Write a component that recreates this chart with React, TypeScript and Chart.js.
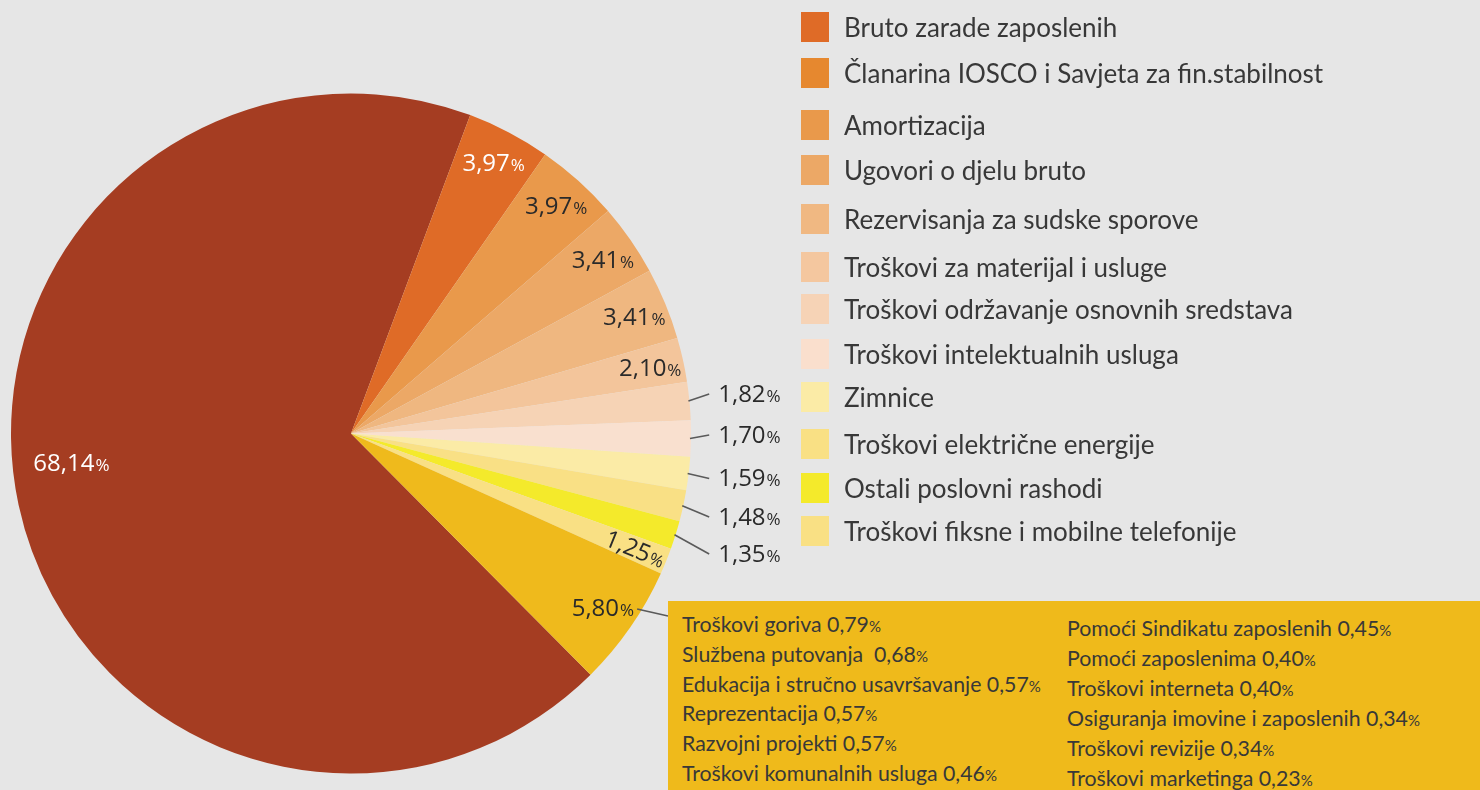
import React, { useEffect, useRef } from 'react';
import { Chart, registerables } from 'chart.js';
Chart.register(...registerables);

// ---- data ----
const sliceNames = [
  'Bruto zarade zaposlenih',
  'Članarina IOSCO i Savjeta za fin.stabilnost',
  'Amortizacija',
  'Ugovori o djelu bruto',
  'Rezervisanja za sudske sporove',
  'Troškovi za materijal i usluge',
  'Troškovi održavanje osnovnih sredstava',
  'Troškovi intelektualnih usluga',
  'Zimnice',
  'Troškovi električne energije',
  'Ostali poslovni rashodi',
  'Troškovi fiksne i mobilne telefonije',
  'Ostali troškovi',
];
const sliceValues = [68.14, 3.97, 3.97, 3.41, 3.41, 2.1, 1.82, 1.7, 1.59, 1.48, 1.35, 1.25, 5.8];
const sliceColors = [
  '#A53D22', '#DF6B27', '#E9994B', '#ECA866', '#EFB780', '#F3C59B', '#F6D3B5',
  '#F9E0CF', '#FBEBA6', '#F9E085', '#F4EA2B', '#F9E084', '#EFBA1C',
];
const legendNames = sliceNames.slice(0, 12);
const legendColors = [
  '#DF6B27', '#E6882F', '#E9994B', '#ECA866', '#F0B882', '#F4C79F',
  '#F6D3B6', '#FADFCD', '#FBEBA6', '#F9E084', '#F4EA2B', '#F9E084',
];
const otherLeftNames = [
  'Troškovi goriva', 'Službena putovanja ', 'Edukacija i stručno usavršavanje',
  'Reprezentacija', 'Razvojni projekti', 'Troškovi komunalnih usluga',
];
const otherLeftValues = [0.79, 0.68, 0.57, 0.57, 0.57, 0.46];
const otherRightNames = [
  'Pomoći Sindikatu zaposlenih', 'Pomoći zaposlenima', 'Troškovi interneta',
  'Osiguranja imovine i zaposlenih', 'Troškovi revizije', 'Troškovi marketinga',
];
const otherRightValues = [0.45, 0.4, 0.4, 0.34, 0.34, 0.23];

// ---- layout / style ----
const W = 1480;
const H = 790;
const BG = '#E6E6E6';
const BOX_LEFT = 668;
const BOX_TOP = 601;
const labelMode = ['big', 'in', 'in', 'in', 'in', 'in', 'out', 'out', 'out', 'out', 'out', 'rot', 'in'];
const whiteLabel = [true, true];
const outerDy = [-40.5, 0.5, 44, 82.5, 119.5];
const legendTops = [12, 58, 110, 155, 204, 252, 294, 339, 382, 429, 473, 516];
const NUM_FONT = '"Open Sans", "Noto Sans", sans-serif';
const TXT_FONT = 'Lato, "Noto Sans", sans-serif';

const fmt = (v: number) => v.toFixed(2).replace('.', ',');

function drawPct(ctx: CanvasRenderingContext2D, v: number, x: number, y: number, align: 'center' | 'left', color: string) {
  const num = fmt(v);
  ctx.font = `24px ${NUM_FONT}`;
  const w1 = ctx.measureText(num).width;
  ctx.font = `17px ${NUM_FONT}`;
  const w2 = ctx.measureText('%').width;
  const total = w1 + w2;
  const x0 = align === 'center' ? x - total / 2 : x;
  const base = y + 8.5;
  ctx.fillStyle = color;
  ctx.textAlign = 'left';
  ctx.textBaseline = 'alphabetic';
  ctx.font = `24px ${NUM_FONT}`;
  ctx.fillText(num, x0, base);
  ctx.font = `17px ${NUM_FONT}`;
  ctx.fillText('%', x0 + w1 + 1, base);
  return { left: x0, right: x0 + total + 1 };
}

const labelPlugin = {
  id: 'pctLabels',
  afterDatasetsDraw(chart: any) {
    const ctx: CanvasRenderingContext2D = chart.ctx;
    const meta = chart.getDatasetMeta(0);
    const values: number[] = chart.data.datasets[0].data;
    let outIdx = 0;
    ctx.save();
    meta.data.forEach((arc: any, i: number) => {
      const { x, y, startAngle, endAngle, outerRadius } = arc.getProps(['x', 'y', 'startAngle', 'endAngle', 'outerRadius'], true);
      const mid = (startAngle + endAngle) / 2;
      const mode = labelMode[i];
      const color = whiteLabel[i] ? '#FFFFFF' : '#2A2A2A';
      const v = values[i];
      if (mode === 'in' || mode === 'big' || mode === 'rot') {
        const a = mode === 'big' ? mid + (6.3 * Math.PI) / 180 : mid;
        const r = outerRadius * (mode === 'big' ? 0.828 : 0.9);
        const px = x + Math.cos(a) * r;
        const py = y + Math.sin(a) * r;
        if (mode === 'rot') {
          ctx.save();
          ctx.translate(px, py);
          ctx.rotate(a);
          drawPct(ctx, v, 0, 0, 'center', color);
          ctx.restore();
        } else {
          const ext = drawPct(ctx, v, px, py, 'center', color);
          if (i === sliceValues.length - 1) {
            ctx.strokeStyle = '#5A5A5A';
            ctx.lineWidth = 1.6;
            ctx.beginPath();
            ctx.moveTo(ext.right + 3, py + 1);
            ctx.lineTo(BOX_LEFT, py + 8);
            ctx.stroke();
          }
        }
      } else if (mode === 'out') {
        const sx = x + Math.cos(mid) * (outerRadius - 1);
        const sy = y + Math.sin(mid) * (outerRadius - 1);
        const tx = x + outerRadius * 1.08;
        const ty = y + outerDy[outIdx++];
        ctx.strokeStyle = '#5A5A5A';
        ctx.lineWidth = 1.6;
        ctx.beginPath();
        ctx.moveTo(sx, sy);
        ctx.lineTo(tx - 9, ty + 1);
        ctx.stroke();
        drawPct(ctx, v, tx, ty, 'left', color);
      }
    });
    ctx.restore();
  },
};

function Pct({ v, size }: { v: number; size: number }) {
  return (
    <span>
      {fmt(v)}
      <span style={{ fontSize: size }}>%</span>
    </span>
  );
}

export default function App() {
  const ref = useRef<HTMLCanvasElement | null>(null);
  useEffect(() => {
    if (!ref.current) return;
    const chart = new Chart(ref.current, {
      type: 'pie',
      data: {
        labels: sliceNames,
        datasets: [
          {
            data: sliceValues,
            backgroundColor: sliceColors,
            borderWidth: 0,
            hoverOffset: 0,
            offset: 0,
          },
        ],
      },
      options: {
        responsive: false,
        animation: false,
        devicePixelRatio: 1,
        rotation: 135.2,
        layout: { padding: { left: 11, top: 93.5, right: W - 691, bottom: H - 773.5 } },
        plugins: { legend: { display: false }, tooltip: { enabled: false } },
        events: [],
      } as any,
      plugins: [labelPlugin],
    });
    return () => chart.destroy();
  }, []);

  return (
    <div style={{ position: 'fixed', left: 0, top: 0, width: W, height: H, background: BG, overflow: 'hidden' }}>
      <canvas ref={ref} width={W} height={H} style={{ position: 'absolute', left: 0, top: 0, width: W, height: H }} />
      {legendNames.map((n, i) => (
        <div key={n} style={{ position: 'absolute', left: 801, top: legendTops[i], height: 30, display: 'flex', alignItems: 'center' }}>
          <div style={{ width: 28, height: 30, background: legendColors[i] }} />
          <div style={{ marginLeft: 15, font: `26px ${TXT_FONT}`, color: '#383838', whiteSpace: 'pre' }}>{n}</div>
        </div>
      ))}
      <div style={{ position: 'absolute', left: BOX_LEFT, top: BOX_TOP, width: W - BOX_LEFT, height: H - BOX_TOP, background: '#EFBA1B' }}>
        {otherLeftNames.map((n, i) => (
          <div key={n} style={{ position: 'absolute', left: 682 - BOX_LEFT, top: 624 - BOX_TOP - 15 + i * 29.8, height: 30, display: 'flex', alignItems: 'center', font: `21.3px ${TXT_FONT}`, color: '#383838', whiteSpace: 'pre' }}>
            {n} <Pct v={otherLeftValues[i]} size={15} />
          </div>
        ))}
        {otherRightNames.map((n, i) => (
          <div key={n} style={{ position: 'absolute', left: 1067 - BOX_LEFT, top: 628 - BOX_TOP - 15 + i * 30, height: 30, display: 'flex', alignItems: 'center', font: `21.3px ${TXT_FONT}`, color: '#383838', whiteSpace: 'pre' }}>
            {n} <Pct v={otherRightValues[i]} size={15} />
          </div>
        ))}
      </div>
    </div>
  );
}
